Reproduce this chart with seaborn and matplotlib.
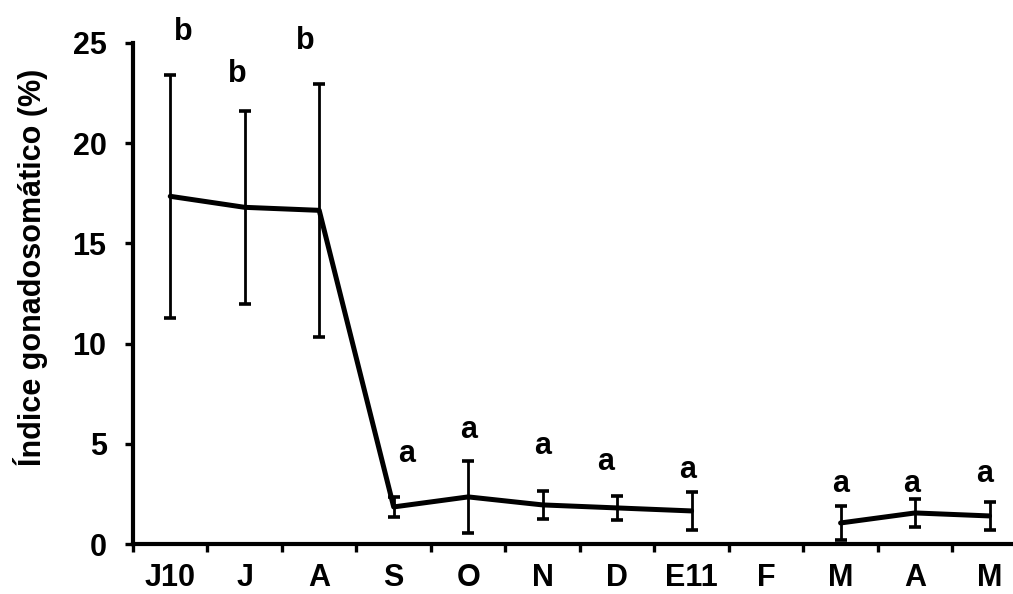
import numpy as np
import pandas as pd
import seaborn as sns
import matplotlib.pyplot as plt
from matplotlib.ticker import FixedLocator

# meses de muestreo (jun 2010 - may 2011)
meses = ['J10', 'J', 'A', 'S', 'O', 'N', 'D', 'E11', 'F', 'M', 'A', 'M']
igs = [17.35, 16.8, 16.65, 1.85, 2.35, 1.95, 1.8, 1.65, np.nan, 1.05, 1.55, 1.4]
err = [6.05, 4.8, 6.3, 0.5, 1.8, 0.7, 0.6, 0.95, np.nan, 0.85, 0.7, 0.7]
letras = ['b', 'b', 'b', 'a', 'a', 'a', 'a', 'a', '', 'a', 'a', 'a']
letra_y = [25.55, 23.45, 25.1, 4.5, 5.7, 4.9, 4.1, 3.7, np.nan, 3.0, 3.0, 3.5]
letra_dx = [0.17, -0.1, -0.19, 0.17, 0.0, 0.0, -0.15, -0.05, 0, 0.0, -0.04, -0.06]

sns.set_style('ticks')
plt.rcParams['font.family'] = ['Liberation Sans', 'DejaVu Sans']
plt.rcParams['font.weight'] = 'bold'
for k in ['text.color', 'axes.labelcolor', 'xtick.color', 'ytick.color',
          'axes.edgecolor']:
    plt.rcParams[k] = 'black'

fs = 22
pos = np.arange(len(meses))
df = pd.DataFrame({'pos': pos, 'igs': igs,
                   'tramo': [0 if i < 8 else 1 for i in pos]})
df = df.dropna()

fig = plt.figure(figsize=(10.13, 5.94), dpi=100)
ax = fig.add_axes([133 / 1013, 50 / 594, 1 - 133 / 1013, 501 / 594])

ax.errorbar(pos, igs, yerr=err, fmt='none', ecolor='black',
            elinewidth=2.0, capsize=4.5, capthick=2.6, zorder=2)
sns.lineplot(data=df, x='pos', y='igs', units='tramo', estimator=None,
             color='black', linewidth=3.6, ax=ax, zorder=3)

for i, (l, h) in enumerate(zip(letras, letra_y)):
    if l:
        ax.text(i + letra_dx[i], h, l, ha='center', va='center',
                fontsize=fs, fontweight='bold', clip_on=False)

ax.set_xlim(-0.5, 11.315)
ax.set_ylim(0, 25)
ax.set_yticks([0, 5, 10, 15, 20, 25])
ax.set_xticks(pos)
ax.set_xticklabels(meses)
ax.xaxis.set_minor_locator(FixedLocator(np.arange(-0.5, 12, 1)))
ax.tick_params(axis='x', which='major', length=0, pad=14, labelsize=fs)
ax.tick_params(axis='x', which='minor', length=6, width=2.4, direction='out')
ax.tick_params(axis='y', length=6, width=2.4, pad=13, labelsize=fs,
               direction='out')
for lab in ax.get_xticklabels() + ax.get_yticklabels():
    lab.set_fontweight('bold')

ax.set_xlabel('')
ax.set_ylabel('Índice gonadosomático (%)', fontsize=fs, fontweight='bold')
ax.yaxis.set_label_coords(-0.0966, 0.552)
sns.despine(ax=ax)
for s in ['left', 'bottom']:
    ax.spines[s].set_linewidth(3)

fig.savefig('out.png', dpi=100)
